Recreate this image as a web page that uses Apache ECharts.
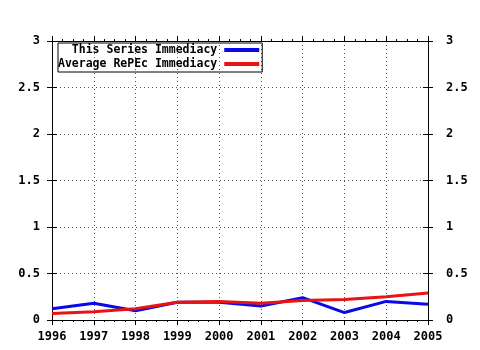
<!DOCTYPE html>
<html>
<head>
<meta charset="utf-8">
<script src="https://cdn.jsdelivr.net/npm/echarts@6/dist/echarts.min.js"></script>
<style>
  html, body { margin: 0; padding: 0; background: #fff; }
  #chart { width: 480px; height: 350px; }
</style>
</head>
<body>
<div id="chart"></div>
<script>
const years = [1996, 1997, 1998, 1999, 2000, 2001, 2002, 2003, 2004, 2005]
const seriesImmediacy = [0.12, 0.18, 0.10, 0.19, 0.19, 0.15, 0.24, 0.08, 0.20, 0.17]
const repecImmediacy = [0.07, 0.09, 0.12, 0.19, 0.20, 0.18, 0.21, 0.22, 0.25, 0.29]
const seriesNames = ['This Series Immediacy', 'Average RePEc Immediacy']

const font = 'DejaVu Sans Mono'
const labelStyle = { fontFamily: font, fontWeight: 'bold', fontSize: 12, color: '#000' }
const legendText = { fontFamily: font, fontWeight: 'bold', fontSize: 11.5, color: '#000' }
const dotted = { show: true, lineStyle: { color: '#555', type: [1, 3], width: 1 } }

const pairs = (vals) => years.map((y, i) => [y, vals[i]])

const xBase = {
  type: 'value', min: 1996, max: 2005, interval: 1,
  axisLine: { show: true, onZero: false, lineStyle: { color: '#000', width: 1 } },
  axisTick: { show: true, length: 5, lineStyle: { color: '#000' } },
  minorTick: { show: true, splitNumber: 4, length: 2, lineStyle: { color: '#000' } },
}
const yBase = {
  type: 'value', min: 0, max: 3, interval: 0.5,
  axisLine: { show: true, onZero: false, lineStyle: { color: '#000', width: 1 } },
  axisTick: { show: true, length: 5, lineStyle: { color: '#000' } },
}

const chart = echarts.init(document.getElementById('chart'), null, { renderer: 'canvas' })

chart.setOption({
  animation: false,
  backgroundColor: '#fff',
  grid: { left: 52, right: 52, top: 41, bottom: 30 },
  legend: {
    orient: 'vertical',
    left: 58, top: 43,
    align: 'right',
    padding: [1, 3, 2, 0],
    itemGap: 2,
    itemWidth: 35, itemHeight: 4,
    borderColor: '#000', borderWidth: 1,
    icon: 'rect',
    textStyle: Object.assign({}, legendText, { width: 164, align: 'right', padding: [0, 2, 0, 0] }),
    data: seriesNames
  },
  xAxis: [
    Object.assign({}, xBase, {
      position: 'bottom',
      splitLine: dotted,
      axisLabel: Object.assign({}, labelStyle, { margin: 11, formatter: (v) => String(v) })
    }),
    Object.assign({}, xBase, {
      position: 'top',
      splitLine: { show: false },
      axisLabel: { show: false }
    })
  ],
  yAxis: [
    Object.assign({}, yBase, {
      position: 'left',
      splitLine: dotted,
      axisLabel: Object.assign({}, labelStyle, { margin: 12 })
    }),
    Object.assign({}, yBase, {
      position: 'right',
      splitLine: { show: false },
      axisLabel: Object.assign({}, labelStyle, { margin: 18 })
    }),
    Object.assign({}, yBase, {
      position: 'left',
      axisLine: { show: false },
      axisTick: { show: true, inside: true, length: 5, lineStyle: { color: '#000' } },
      splitLine: { show: false },
      axisLabel: { show: false }
    }),
    Object.assign({}, yBase, {
      position: 'right',
      axisLine: { show: false },
      axisTick: { show: true, inside: true, length: 5, lineStyle: { color: '#000' } },
      splitLine: { show: false },
      axisLabel: { show: false }
    })
  ],
  series: [
    {
      name: seriesNames[0], type: 'line', data: pairs(seriesImmediacy),
      showSymbol: false, symbol: 'none',
      color: '#0a0ae6',
      lineStyle: { width: 3, color: '#0a0ae6' }
    },
    {
      name: seriesNames[1], type: 'line', data: pairs(repecImmediacy),
      showSymbol: false, symbol: 'none',
      color: '#e81414',
      lineStyle: { width: 3, color: '#e81414' }
    }
  ]
})
</script>
</body>
</html>
